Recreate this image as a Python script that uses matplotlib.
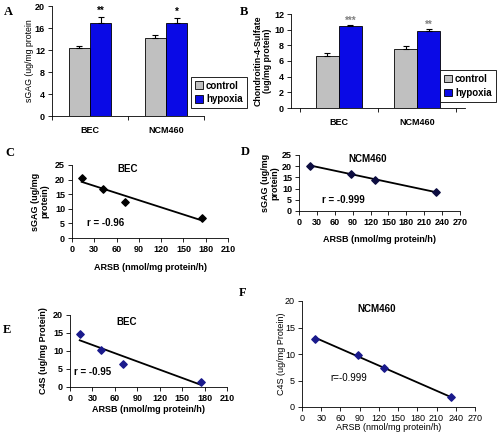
import numpy as np
import matplotlib
matplotlib.use('Agg')
import matplotlib.pyplot as plt
from matplotlib.patches import Patch

plt.rcParams['font.family'] = ['Liberation Sans', 'DejaVu Sans']

W, H = 497, 445

# bar data
groups = ['BEC', 'NCM460']
sgag_control = [12.3, 14.1]
sgag_control_err = [0.5, 0.6]
sgag_hypoxia = [17.0, 16.9]
sgag_hypoxia_err = [1.0, 1.0]
sgag_stars = ['**', '*']

c4s_control = [6.7, 7.5]
c4s_control_err = [0.35, 0.45]
c4s_hypoxia = [10.45, 9.8]
c4s_hypoxia_err = [0.1, 0.3]
c4s_stars = ['***', '**']

# scatter data
bec_arsb = [13, 42, 71, 175]
bec_sgag = [20.7, 16.8, 12.3, 6.8]
bec_c4s = [14.8, 10.3, 6.3, 1.5]
ncm_arsb_d = [18, 88, 128, 230]
ncm_sgag = [20.3, 16.6, 14.0, 8.4]
ncm_arsb_f = [20, 88, 128, 232]
ncm_c4s = [12.9, 9.8, 7.4, 1.8]

fig = plt.figure(figsize=(W / 100, H / 100), dpi=100)


def px_axes(l, t, r, b):
    return fig.add_axes([l / W, 1 - b / H, (r - l) / W, (b - t) / H])


def label_px(ax, l, t, r, b, ylab_x=None, xlab_y=None):
    if ylab_x is not None:
        ax.yaxis.label.set_va('center')
        ax.yaxis.set_label_coords((ylab_x - l) / (r - l), 0.5)
    if xlab_y is not None:
        ax.xaxis.label.set_va('center')
        ax.xaxis.set_label_coords(0.5, (b - xlab_y) / (b - t))


def bar_panel(box, ctrl, ctrl_err, hyp, hyp_err, stars, ylim, yticks, xlim, width,
              ylabel, ylab_x, star_color, star_y, legend_box, weight):
    ax = px_axes(*box)
    x = np.arange(len(groups))
    ax.bar(x - width / 2, ctrl, width, color='#c0c0c0', edgecolor='black', linewidth=0.6,
           yerr=[[0] * 2, ctrl_err], error_kw=dict(elinewidth=0.8, capsize=2.5, capthick=0.8))
    ax.bar(x + width / 2, hyp, width, color='#0a0ae6', edgecolor='black', linewidth=0.6,
           yerr=[[0] * 2, hyp_err], error_kw=dict(elinewidth=0.8, capsize=2.5, capthick=0.8))
    for i, s in enumerate(stars):
        ax.text(x[i] + width / 2, star_y[i], s, ha='center', va='bottom', fontsize=7,
                color=star_color, fontweight='bold')
    ax.set_xlim(*xlim)
    ax.set_ylim(*ylim)
    ax.set_yticks(yticks)
    ax.set_xticks(x)
    ax.set_xticklabels(groups, fontweight='bold', fontsize=6.5)
    ax.set_xticks([-0.5, 0.5, 1.5], minor=True)
    ax.tick_params(axis='x', which='major', length=0, pad=7)
    ax.tick_params(axis='x', which='minor', length=3, width=0.6)
    ax.tick_params(axis='y', length=3, width=0.6, labelsize=6.5, pad=2)
    for t in ax.get_yticklabels():
        t.set_fontweight('bold')
    for s in ['top', 'right']:
        ax.spines[s].set_visible(False)
    for s in ['left', 'bottom']:
        ax.spines[s].set_linewidth(0.6)
    ax.set_ylabel(ylabel, fontsize=6.3, fontweight=weight, linespacing=1.1)
    label_px(ax, *box, ylab_x=ylab_x)
    handles = [Patch(facecolor='#c0c0c0', edgecolor='black', linewidth=0.6, label='control'),
               Patch(facecolor='#0a0ae6', edgecolor='black', linewidth=0.6, label='hypoxia')]
    l, t, r, b = legend_box
    leg = ax.legend(handles=handles, loc='center', bbox_to_anchor=((l + r) / 2 / W, 1 - (t + b) / 2 / H),
                    bbox_transform=fig.transFigure, fancybox=False, framealpha=1,
                    edgecolor='black', fontsize=7, handlelength=0.8, handleheight=0.8,
                    handletextpad=0.3, borderpad=0.4, labelspacing=0.4)
    leg.get_frame().set_linewidth(0.6)
    for t in leg.get_texts():
        t.set_fontweight('bold')
    return ax


bar_panel((52, 6, 204, 116), sgag_control, sgag_control_err, sgag_hypoxia, sgag_hypoxia_err,
          sgag_stars, (0, 20), range(0, 21, 4), (-0.5, 1.5), 0.28,
          'sGAG (ug/mg protein', 30, 'black', [18.2, 18.0], (190, 80, 248, 105), 'normal')
bar_panel((291, 14, 465, 108), c4s_control, c4s_control_err, c4s_hypoxia, c4s_hypoxia_err,
          c4s_stars, (0, 12), range(0, 13, 2), (-0.615, 1.615), 0.295,
          'Chondroitin-4-Sulfate\n(ug/mg protein)', 263, '#808080', [10.45, 9.95],
          (443, 75, 493, 97), 'bold')


def scatter_panel(box, xs, ys, color, xlim, xticks, ylim, yticks, title, title_xy,
                  rtext, r_xy, ylabel, ylab_x, xlab_y, weight):
    ax = px_axes(*box)
    m, c = np.polyfit(xs, ys, 1)
    xx = np.array([min(xs), max(xs)])
    ax.plot(xx, m * xx + c, color='black', linewidth=1.3, zorder=2)
    ax.scatter(xs, ys, marker='D', s=14, color=color, zorder=3)
    ax.set_xlim(*xlim)
    ax.set_ylim(*ylim)
    ax.set_xticks(xticks)
    ax.set_yticks(yticks)
    ax.tick_params(length=3, width=0.6, labelsize=6.5, pad=2)
    for t in ax.get_xticklabels() + ax.get_yticklabels():
        t.set_fontweight(weight)
    for s in ['top', 'right']:
        ax.spines[s].set_visible(False)
    for s in ['left', 'bottom']:
        ax.spines[s].set_linewidth(0.6)
    ax.text(*title_xy, title, ha='center', va='center', fontsize=7, fontweight='bold')
    ax.text(*r_xy, rtext, ha='left', va='center', fontsize=7, fontweight=weight)
    ax.set_ylabel(ylabel, fontsize=6.5, fontweight=weight, linespacing=1.1)
    ax.set_xlabel('ARSB (nmol/mg protein/h)', fontsize=6.5, fontweight=weight)
    label_px(ax, *box, ylab_x=ylab_x, xlab_y=xlab_y)
    return ax


scatter_panel((72, 165, 228, 238), bec_arsb, bec_sgag, 'black', (0, 210), range(0, 211, 30),
              (0, 25), range(0, 26, 5), 'BEC', (75, 23.5), 'r = -0.96', (20, 5.3),
              'sGAG (ug/mg\nprotein)', 40, 268, 'bold')
scatter_panel((299, 155, 460, 211), ncm_arsb_d, ncm_sgag, '#0d0d40', (0, 270), range(0, 271, 30),
              (0, 25), range(0, 26, 5), 'NCM460', (115, 23), 'r = -0.999', (38, 4.9),
              'sGAG (ug/mg\nprotein)', 270, 239, 'bold')
scatter_panel((70, 315, 227, 387), bec_arsb, bec_c4s, '#1a1a8c', (0, 210), range(0, 211, 30),
              (0, 20), range(0, 21, 5), 'BEC', (76, 18), 'r = -0.95', (5, 4.2),
              'C4S (ug/mg Protein)', 43, 409, 'bold')
scatter_panel((302, 301, 475, 407), ncm_arsb_f, ncm_c4s, '#1a1a8c', (0, 270), range(0, 271, 30),
              (0, 20), range(0, 21, 5), 'NCM460', (117, 18.5), 'r=-0.999', (45, 5.5),
              'C4S (ug/mg Protein)', 282, 427, 'normal')

for letter, (x, y) in {'A': (8, 12), 'B': (244, 12), 'C': (10, 153), 'D': (245, 152),
                       'E': (7, 330), 'F': (243, 293)}.items():
    fig.text(x / W, 1 - y / H, letter, family=['Liberation Serif', 'DejaVu Serif'],
             fontweight='bold', fontsize=9, ha='center', va='center')

fig.savefig('out.png', dpi=100)
